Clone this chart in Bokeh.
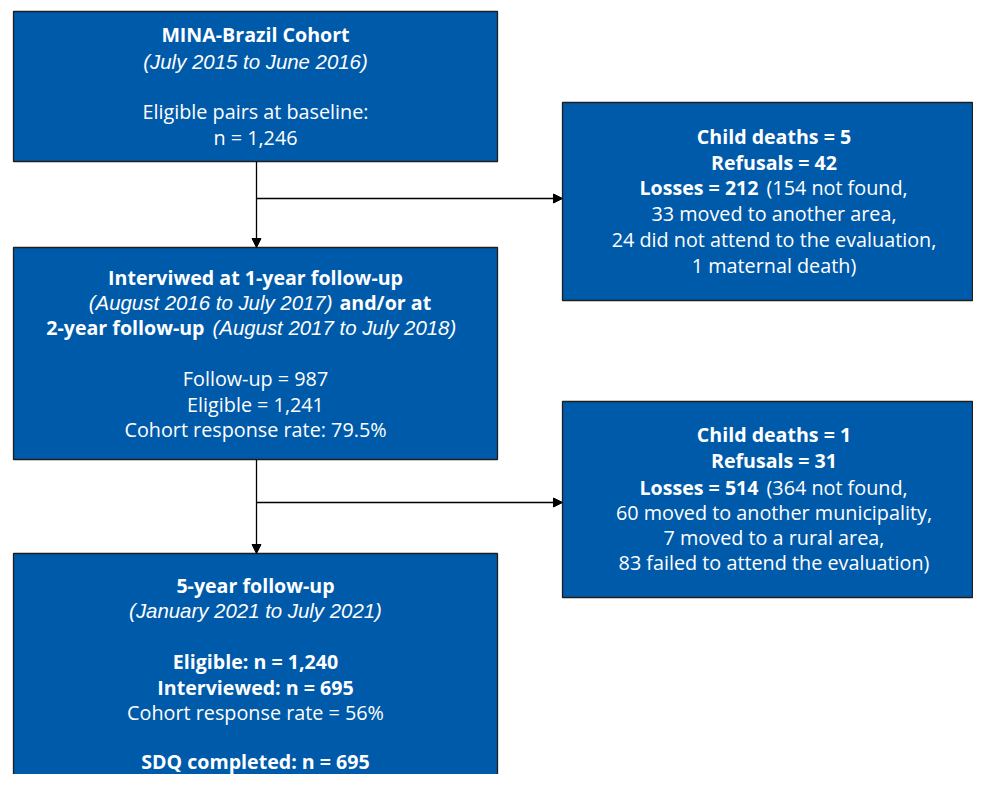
from bokeh.plotting import figure
from bokeh.models import Range1d, Arrow, NormalHead, ColumnDataSource
from bokeh.core.properties import value
from bokeh.embed import file_html
from bokeh.resources import INLINE

FONTS = {"normal": "Open Sans", "bold": "Open Sans", "italic": "Liberation Sans"}
SIZES = {"normal": "19.8px", "bold": "19.6px", "italic": "20.4px"}
FILL = "#005AAA"
EDGE = "#1E1E1E"

# ---- texts (one list of lines per box; each line = list of (text, style)) ----
baseline_lines = [
    [("MINA-Brazil Cohort", "bold")],
    [("(July 2015 to June 2016)", "italic")],
    [],
    [("Eligible pairs at baseline:", "normal")],
    [("n = 1,246", "normal")],
]
followup12_lines = [
    [("Interviwed at 1-year follow-up", "bold")],
    [("(August 2016 to July 2017)", "italic"), ("and/or at", "bold")],
    [("2-year follow-up", "bold"), ("(August 2017 to July 2018)", "italic")],
    [],
    [("Follow-up = 987", "normal")],
    [("Eligible = 1,241", "normal")],
    [("Cohort response rate: 79.5%", "normal")],
]
followup5_lines = [
    [("5-year follow-up", "bold")],
    [("(January 2021 to July 2021)", "italic")],
    [],
    [("Eligible: n = 1,240", "bold")],
    [("Interviewed: n = 695", "bold")],
    [("Cohort response rate = 56%", "normal")],
    [],
    [("SDQ completed: n = 695", "bold")],
]
losses1_lines = [
    [("Child deaths = 5", "bold")],
    [("Refusals = 42", "bold")],
    [("Losses = 212", "bold"), ("(154 not found,", "normal")],
    [("33 moved to another area,", "normal")],
    [("24 did not attend to the evaluation,", "normal")],
    [("1 maternal death)", "normal")],
]
losses2_lines = [
    [("Child deaths = 1", "bold")],
    [("Refusals = 31", "bold")],
    [("Losses = 514", "bold"), ("(364 not found,", "normal")],
    [("60 moved to another municipality,", "normal")],
    [("7 moved to a rural area,", "normal")],
    [("83 failed to attend the evaluation)", "normal")],
]

# ---- layout (pixel coordinates, y downwards) ----
boxes = [
    dict(lines=baseline_lines, l=13, r=497, t=11, b=161,
         ys=[33.5, 61, None, 111, 137], splits={}),
    dict(lines=followup12_lines, l=13, r=497, t=247, b=459,
         ys=[277, 302, 327, None, 378, 404, 429], splits={1: (332, 339), 2: (204, 212)}),
    dict(lines=followup5_lines, l=13, r=497, t=553, b=800,
         ys=[585, 610, None, 661, 687, 712, None, 761], splits={}),
    dict(lines=losses1_lines, l=562, r=972, t=102, b=300, cx=773.5,
         ys=[136, 162, 187, 213, 239, 265], splits={2: (758, 766)}),
    dict(lines=losses2_lines, l=562, r=972, t=401, b=597, cx=773.5,
         ys=[434, 460, 487, 512, 537, 562], splits={2: (758, 766)}),
]

p = figure(width=973, height=774, x_range=Range1d(0, 973), y_range=Range1d(774, 0),
           output_backend="svg", toolbar_location=None, min_border=0,
           x_axis_type=None, y_axis_type=None)
p.grid.visible = False
p.outline_line_color = None
p.background_fill_color = "white"
p.border_fill_color = "white"

p.quad(left=[b["l"] for b in boxes], right=[b["r"] for b in boxes],
       top=[b["t"] for b in boxes], bottom=[b["b"] for b in boxes],
       fill_color=FILL, line_color=EDGE, line_width=1.3)

# connectors
LW = 1.3
for (y0, y1, yh) in [(161, 247, 198), (459, 553, 502)]:
    p.add_layout(Arrow(end=NormalHead(size=9, fill_color="black", line_color="black"),
                       x_start=256, y_start=y0, x_end=256, y_end=y1,
                       line_color="black", line_width=LW))
    p.add_layout(Arrow(end=NormalHead(size=9, fill_color="black", line_color="black"),
                       x_start=256, y_start=yh, x_end=562, y_end=yh,
                       line_color="black", line_width=LW))

groups = {}
def add(style, align, x, y, t):
    g = groups.setdefault((style, align), dict(x=[], y=[], text=[]))
    g["x"].append(x); g["y"].append(y); g["text"].append(t)

for b in boxes:
    cx = b.get("cx", (b["l"] + b["r"]) / 2)
    for i, line in enumerate(b["lines"]):
        if not line:
            continue
        y = b["ys"][i]
        if len(line) == 1:
            add(line[0][1], "center", cx, y, line[0][0])
        else:
            xe, xs = b["splits"][i]
            add(line[0][1], "right", xe, y, line[0][0])
            add(line[1][1], "left", xs, y, line[1][0])

for (style, align), g in groups.items():
    p.text(x="x", y="y", text="text", source=ColumnDataSource(g),
           text_font=value(FONTS[style]), text_font_size=value(SIZES[style]),
           text_font_style=style, text_align=align, text_baseline="middle",
           text_color="white")

open("out.html", "w").write(file_html(p, INLINE))
